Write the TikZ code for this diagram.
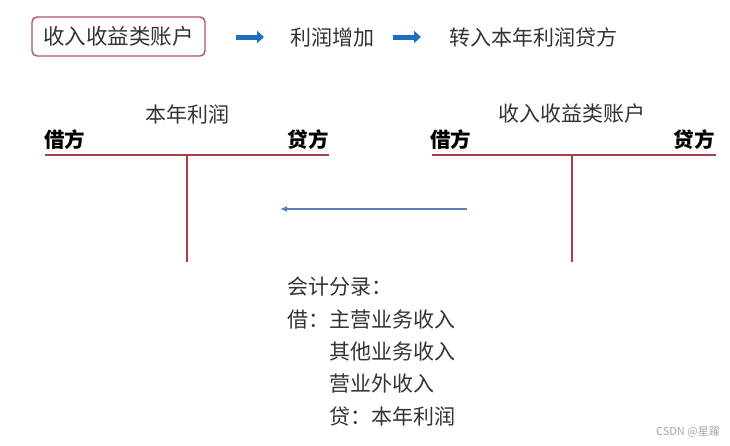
\documentclass[tikz,border=0pt]{standalone}
\usepackage{fontspec}
\setmainfont{Noto Sans CJK SC}
\usetikzlibrary{arrows.meta}
\definecolor{txt}{HTML}{333333}
\definecolor{boxred}{HTML}{B5535D}
\definecolor{tline}{HTML}{A83E4A}
\definecolor{bluethick}{HTML}{1F6FBF}
\definecolor{bluethin}{HTML}{5A7FB5}
\tikzset{
  lbl/.style={font=\fontsize{21}{24}\selectfont, text=txt, inner sep=0pt},
  side/.style={font=\fontsize{20.5}{24}\selectfont\bfseries, text=black, inner sep=0pt},
  topbox/.style={draw=boxred, line width=1.4pt, rounded corners=5pt, minimum width=173pt, minimum height=39pt, inner sep=0pt, font=\fontsize{21.5}{24}\selectfont, text=txt},
  bigarrow/.style={draw=bluethick, line width=5pt, -{Triangle[length=7pt,width=12pt]}},
  tl/.style={draw=tline, line width=1.5pt},
  thinarrow/.style={draw=bluethin, line width=1.4pt, -{Latex[length=7pt,width=6pt]}},
  wm/.style={font=\fontsize{11}{12}\selectfont, text=gray!70, inner sep=0pt}
}
\begin{document}
\begin{tikzpicture}[x=1pt,y=-1pt]
\useasboundingbox (0,0) rectangle (730,445);
% top line
\node[topbox] (src) at (118.5,36.5) {收入收益类账户};
\node[lbl] (inc) at (332,37) {利润增加};
\node[lbl] (tr) at (533,37) {转入本年利润贷方};
\coordinate (a1s) at (236,37);
\coordinate (a1e) at (264,37);
\coordinate (a2s) at (393,37);
\coordinate (a2e) at (421,37);
\draw[bigarrow] (a1s) -- (a1e);
\draw[bigarrow] (a2s) -- (a2e);
% left T account
\node[lbl] (ltitle) at (187,114) {本年利润};
\node[side, anchor=west] (ldr) at (44,140) {借方};
\node[side, anchor=east] (lcr) at (329,140) {贷方};
\coordinate (lh1) at (45,155);
\coordinate (lh2) at (329,155);
\coordinate (lvt) at (187,155);
\coordinate (lvb) at (187,262);
\draw[tl] (lh1) -- (lh2);
\draw[tl] (lvt) -- (lvb);
% right T account
\node[lbl] (rtitle) at (572,114) {收入收益类账户};
\node[side, anchor=west] (rdr) at (430,140) {借方};
\node[side, anchor=east] (rcr) at (715,140) {贷方};
\coordinate (rh1) at (432,155);
\coordinate (rh2) at (716,155);
\coordinate (rvt) at (572,155);
\coordinate (rvb) at (572,262);
\draw[tl] (rh1) -- (rh2);
\draw[tl] (rvt) -- (rvb);
% transfer arrow
\coordinate (ts) at (467,209);
\coordinate (te) at (280,209);
\draw[thinarrow] (ts) -- (te);
% journal entry
\node[lbl, anchor=west] (j0) at (287,287) {会计分录：};
\node[lbl, anchor=west] (j1) at (287,320) {借：主营业务收入};
\node[lbl, anchor=west] (j2) at (329,352) {其他业务收入};
\node[lbl, anchor=west] (j3) at (329,384) {营业外收入};
\node[lbl, anchor=west] (j4) at (329,416) {贷：本年利润};
% watermark
\node[wm, anchor=east] (mark) at (720,432) {CSDN @星躍};
\end{tikzpicture}
\end{document}
